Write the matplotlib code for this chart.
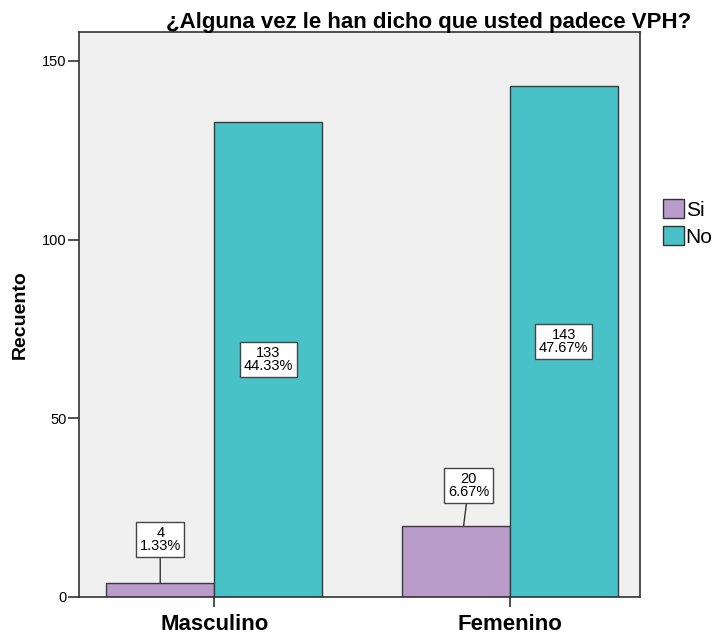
import matplotlib
matplotlib.use("Agg")
import matplotlib.pyplot as plt
import numpy as np
from matplotlib.patches import Patch

plt.rcParams['font.family'] = ['Liberation Sans', 'DejaVu Sans']

categories = ["Masculino", "Femenino"]
series = ["Si", "No"]
si_vals = [4, 20]
no_vals = [133, 143]
si_pct = ["1.33%", "6.67%"]
no_pct = ["44.33%", "47.67%"]
colors = ["#B99CC9", "#48C2C6"]

fig = plt.figure(figsize=(7.18, 6.37), dpi=100)
ax = fig.add_axes([0.110, 0.0628, 0.781, 0.887])
ax.set_facecolor("#F0F0F0")

x = np.arange(len(categories))
w = 0.366
ax.bar(x - w/2, si_vals, w, color=colors[0], edgecolor="#3a3a3a", linewidth=1.0, zorder=2)
ax.bar(x + w/2, no_vals, w, color=colors[1], edgecolor="#3a3a3a", linewidth=1.0, zorder=2)

ax.set_xlim(-0.458, 1.44)
ax.set_ylim(0, 158.1)
ax.set_yticks([0, 50, 100, 150])
ax.set_xticks(x)
ax.set_xticklabels(categories, fontsize=16, fontweight="bold")
ax.tick_params(axis='y', labelsize=10.5, length=8, width=1.2, color="#333333", pad=1)
ax.tick_params(axis='x', length=7, width=1.2, color="#333333", pad=5)
for s in ax.spines.values():
    s.set_color("#333333")
    s.set_linewidth(1.2)
ax.set_ylabel("Recuento", fontsize=14, fontweight="bold", labelpad=10)
ax.yaxis.set_label_coords(-0.09, 0.5)

bbox = dict(boxstyle="square,pad=0.25", fc="white", ec="#444444", lw=1.0)
tfs = 10.5
for i in range(len(categories)):
    ax.text(x[i] + w/2, no_vals[i] / 2, f"{no_vals[i]}\n{no_pct[i]}", ha="center", va="center",
            fontsize=tfs, bbox=bbox, linespacing=0.95, zorder=4)
si_label_y = [16.1, 31.2]
si_label_dx = [0.0, 0.044]
si_line_dx = [0.0, 0.027]
for i in range(len(categories)):
    cx = x[i] - w/2
    ax.annotate(f"{si_vals[i]}\n{si_pct[i]}", xy=(cx + si_line_dx[i], si_vals[i]),
                xytext=(cx + si_label_dx[i], si_label_y[i]), ha="center", va="center",
                fontsize=tfs, bbox=bbox, linespacing=0.95, zorder=4,
                arrowprops=dict(arrowstyle="-", color="#333333", lw=1.0, shrinkA=0, shrinkB=0))

handles = [Patch(facecolor=colors[0], edgecolor="#333333", label="Si"),
           Patch(facecolor=colors[1], edgecolor="#333333", label="No")]
fig.legend(handles=handles, loc="center left", bbox_to_anchor=(0.923, 0.65), frameon=False,
           fontsize=15, handlelength=1.0, handleheight=1.0, handletextpad=0.1, labelspacing=0.3,
           borderpad=0, borderaxespad=0)

fig.text(0.597, 0.965, "¿Alguna vez le han dicho que usted padece VPH?", ha="center", va="center",
         fontsize=16, fontweight="bold")

fig.savefig("out.png", dpi=100, facecolor="white")
